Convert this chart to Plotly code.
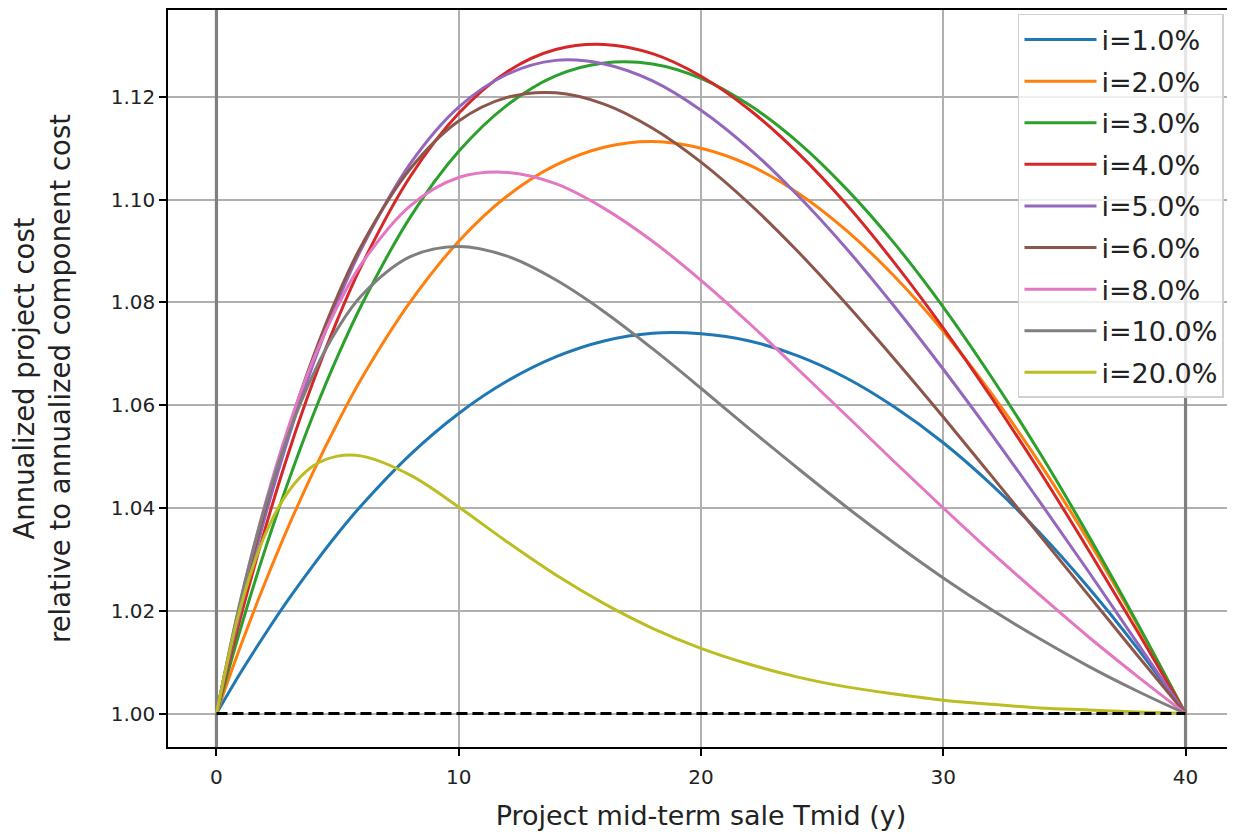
import plotly.graph_objects as go

# Sale year Tmid (years)
tmid = [0, 1, 2, 3, 4, 5, 6, 8, 10, 12, 14, 16, 18, 20, 22, 24, 26, 28, 30, 32, 34, 36, 38, 40]

# Ratio of annualized project cost to annualized component cost
r_1 = [1.0000, 1.0080, 1.0154, 1.0224, 1.0289, 1.0350, 1.0406, 1.0504, 1.0584, 1.0647, 1.0694, 1.0725,
       1.0740, 1.0739, 1.0725, 1.0696, 1.0653, 1.0596, 1.0527, 1.0445, 1.0351, 1.0245, 1.0128, 1.0000]
r_2 = [1.0000, 1.0132, 1.0254, 1.0367, 1.0471, 1.0566, 1.0653, 1.0801, 1.0919, 1.1007, 1.1067, 1.1102,
       1.1113, 1.1100, 1.1067, 1.1013, 1.0940, 1.0850, 1.0744, 1.0622, 1.0486, 1.0336, 1.0174, 1.0000]
r_3 = [1.0000, 1.0166, 1.0318, 1.0456, 1.0582, 1.0695, 1.0796, 1.0966, 1.1094, 1.1184, 1.1241, 1.1266,
       1.1264, 1.1236, 1.1184, 1.1112, 1.1021, 1.0914, 1.0791, 1.0654, 1.0506, 1.0346, 1.0177, 1.0000]
r_4 = [1.0000, 1.0188, 1.0358, 1.0511, 1.0647, 1.0767, 1.0873, 1.1045, 1.1168, 1.1249, 1.1292, 1.1302,
       1.1284, 1.1240, 1.1175, 1.1091, 1.0991, 1.0876, 1.0750, 1.0614, 1.0470, 1.0318, 1.0161, 1.0000]
r_5 = [1.0000, 1.0203, 1.0382, 1.0541, 1.0681, 1.0802, 1.0906, 1.1070, 1.1180, 1.1244, 1.1271, 1.1264,
       1.1231, 1.1174, 1.1099, 1.1008, 1.0905, 1.0791, 1.0670, 1.0543, 1.0411, 1.0276, 1.0138, 1.0000]
r_6 = [1.0000, 1.0212, 1.0396, 1.0557, 1.0695, 1.0813, 1.0912, 1.1060, 1.1153, 1.1199, 1.1208, 1.1186,
       1.1139, 1.1073, 1.0992, 1.0899, 1.0797, 1.0689, 1.0577, 1.0462, 1.0346, 1.0230, 1.0114, 1.0000]
r_8 = [1.0000, 1.0220, 1.0406, 1.0561, 1.0689, 1.0793, 1.0876, 1.0988, 1.1043, 1.1053, 1.1031, 1.0983,
       1.0919, 1.0843, 1.0759, 1.0670, 1.0580, 1.0489, 1.0400, 1.0313, 1.0230, 1.0149, 1.0073, 1.0000]
r_10 = [1.0000, 1.0222, 1.0402, 1.0547, 1.0661, 1.0749, 1.0814, 1.0889, 1.0909, 1.0890, 1.0844, 1.0782,
        1.0710, 1.0633, 1.0554, 1.0477, 1.0402, 1.0331, 1.0264, 1.0202, 1.0145, 1.0092, 1.0044, 1.0000]
r_20 = [1.0000, 1.0208, 1.0347, 1.0434, 1.0482, 1.0501, 1.0501, 1.0464, 1.0402, 1.0334, 1.0270, 1.0214,
        1.0166, 1.0127, 1.0096, 1.0071, 1.0052, 1.0038, 1.0026, 1.0018, 1.0011, 1.0007, 1.0003, 1.0000]

labels = ["i=1.0%", "i=2.0%", "i=3.0%", "i=4.0%", "i=5.0%", "i=6.0%", "i=8.0%", "i=10.0%", "i=20.0%"]
series = [r_1, r_2, r_3, r_4, r_5, r_6, r_8, r_10, r_20]
colors = ["#1f77b4", "#ff7f0e", "#2ca02c", "#d62728", "#9467bd", "#8c564b", "#e377c2", "#7f7f7f", "#bcbd22"]

x_bounds = [0, 40]
y_base = [1.0, 1.0]
y_span = [0.9935, 1.1369]

fig = go.Figure()

# vertical reference lines at project start and end
for xv in x_bounds:
    fig.add_trace(go.Scatter(x=[xv, xv], y=y_span, mode="lines",
                             line=dict(color="#808080", width=3.2),
                             showlegend=False, hoverinfo="skip"))

for k, (lab, ys, c) in enumerate(zip(labels, series, colors)):
    fig.add_trace(go.Scatter(x=tmid, y=ys, mode="lines", name=lab,
                             line=dict(color=c, width=3, shape="spline", smoothing=1.0),
                             legendgroup=f"g{k}"))

fig.add_trace(go.Scatter(x=x_bounds, y=y_base, mode="lines",
                         line=dict(color="black", width=3, dash="11px,5px"),
                         showlegend=False, hoverinfo="skip"))

font_family = "DejaVu Sans"
fig.update_layout(
    width=1228, height=826,
    margin=dict(l=160, r=0, t=2, b=87),
    paper_bgcolor="white", plot_bgcolor="white",
    font=dict(family=font_family, size=20, color="#222222"),
    legend=dict(x=0.9906, y=0.9946, xanchor="right", yanchor="top",
                bgcolor="rgba(255,255,255,0.8)", bordercolor="#d0d0d0", borderwidth=1.5,
                font=dict(size=27, color="#222222"), tracegroupgap=3.5,
                itemwidth=72),
    showlegend=True,
)
fig.update_xaxes(range=[-2, 42], tickvals=[0, 10, 20, 30, 40],
                 showgrid=True, gridcolor="#b0b0b0", gridwidth=1.5,
                 zeroline=False, showline=True, linecolor="black", linewidth=1.6, mirror=True,
                 ticks="outside", ticklen=7, tickwidth=1.6, tickcolor="black",
                 ticklabelstandoff=4,
                 title=dict(text="Project mid-term sale Tmid (y)", font=dict(size=27), standoff=18))
fig.update_yaxes(range=[0.9935, 1.1369], tickvals=[1.00, 1.02, 1.04, 1.06, 1.08, 1.10, 1.12],
                 tickformat=".2f",
                 showgrid=True, gridcolor="#b0b0b0", gridwidth=1.5,
                 zeroline=False, showline=True, linecolor="black", linewidth=1.6, mirror=True,
                 ticks="outside", ticklen=7, tickwidth=1.6, tickcolor="black",
                 title=dict(text="Annualized project cost<br>relative to annualized component cost",
                            font=dict(size=27.5), standoff=33))

fig.write_html("out.html")
